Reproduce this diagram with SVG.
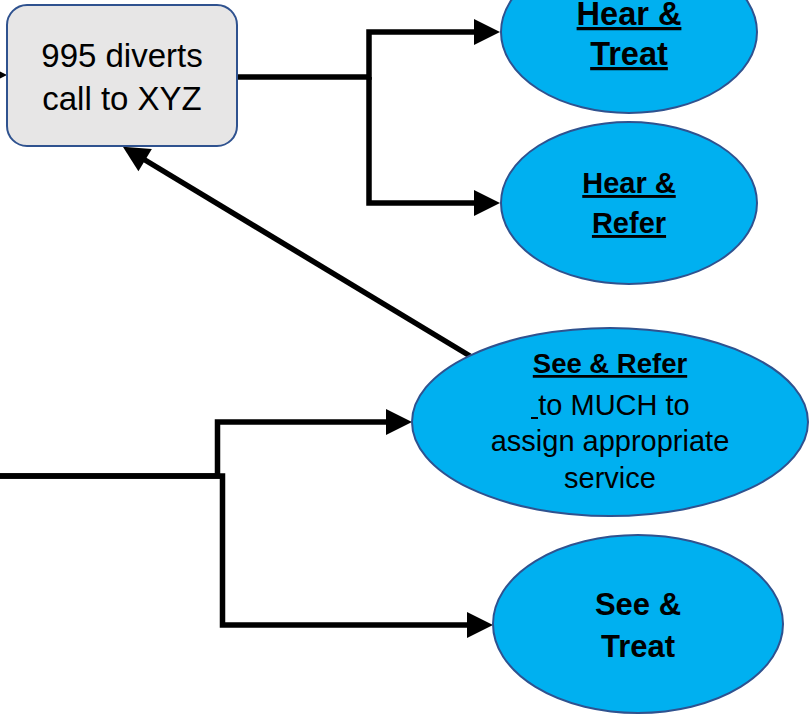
<svg xmlns="http://www.w3.org/2000/svg" width="812" height="714" viewBox="0 0 812 714">
  <style>
    .conn { fill: none; stroke: #000; stroke-width: 5.5; stroke-linejoin: miter; marker-end: url(#arrow); }
    .oval { fill: #00B0F0; stroke: #2F528F; stroke-width: 2; }
    .box { fill: #E7E6E6; stroke: #2F528F; stroke-width: 2; }
    .lbl { font-family: "Liberation Sans", Arial, sans-serif; fill: #000; text-anchor: middle; }
    .b { font-weight: bold; }
    .u { text-decoration: underline; }
  </style>
  <defs>
    <marker id="arrow" markerUnits="userSpaceOnUse" markerWidth="26" markerHeight="26" refX="6" refY="13" orient="auto" overflow="visible">
      <path d="M0,0 L26,13 L0,26 Z" fill="#000"/>
    </marker>
  </defs>

  <rect width="812" height="714" fill="#fff"/>

  <!-- connectors -->
  <g id="connectors">
    <path class="conn" d="M-40,75 H-13"/>
    <path class="conn" d="M237,77 H369 V32 H480"/>
    <path class="conn" d="M369,77 V203 H480"/>
    <path class="conn" d="M470,356 L140,157"/>
    <path class="conn" d="M0,476 H217.5 V422 H392"/>
    <path class="conn" d="M0,476 H222.5 V625 H473"/>
  </g>

  <!-- call diversion box -->
  <g id="divert">
    <rect class="box" x="7" y="5" width="230" height="141" rx="20" ry="20"/>
    <text class="lbl" x="122" y="67" font-size="33">995 diverts</text>
    <text class="lbl" x="122" y="110" font-size="33">call to XYZ</text>
  </g>

  <g id="hear-treat">
    <ellipse class="oval" cx="629" cy="32" rx="128" ry="81"/>
    <text class="lbl b u" x="629" y="25" font-size="32.5">Hear &amp;</text>
    <text class="lbl b u" x="629" y="65" font-size="32.5">Treat</text>
  </g>

  <g id="hear-refer">
    <ellipse class="oval" cx="629" cy="203" rx="128" ry="81"/>
    <text class="lbl b u" x="629" y="193" font-size="29">Hear &amp;</text>
    <text class="lbl b u" x="629" y="233" font-size="29">Refer</text>
  </g>

  <g id="see-refer">
    <ellipse class="oval" cx="610" cy="422" rx="198" ry="94"/>
    <text class="lbl b u" x="610" y="373" font-size="27.5">See &amp; Refer</text>
    <!-- underlined leading space before "to" -->
    <rect x="531" y="417" width="7" height="2" fill="#000"/>
    <text class="lbl" x="614" y="415" font-size="29">to MUCH to</text>
    <text class="lbl" x="610" y="451" font-size="29">assign appropriate</text>
    <text class="lbl" x="610" y="488" font-size="29">service</text>
  </g>

  <g id="see-treat">
    <ellipse class="oval" cx="638" cy="624" rx="145" ry="89"/>
    <text class="lbl b" x="638" y="615" font-size="31">See &amp;</text>
    <text class="lbl b" x="638" y="657" font-size="31">Treat</text>
  </g>
</svg>
